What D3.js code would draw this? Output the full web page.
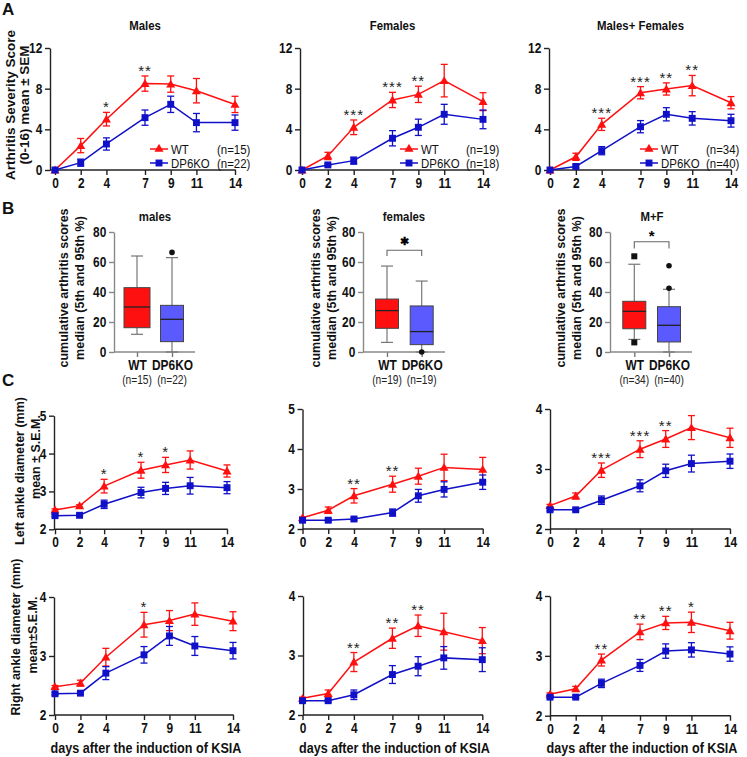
<!DOCTYPE html>
<html><head><meta charset="utf-8">
<script src="https://cdn.jsdelivr.net/npm/d3@7"></script>
<style>body{margin:0;background:#fff} svg{display:block} text{font-family:"Liberation Sans",Arial,sans-serif}</style>
</head><body><svg id="c" width="747" height="757"></svg>
<script>
const days=[0,2,4,7,9,11,14];
const seriesNames=["WT","DP6KO"];
// Panel A: arthritis severity score (mean ± SEM)
const aMalesWT=[0,2.4,5.0,8.5,8.45,7.8,6.45];
const aMalesWTsem=[0,0.7,0.67,0.75,0.8,1.2,0.8];
const aMalesKO=[0,0.72,2.56,5.15,6.46,4.66,4.66];
const aMalesKOsem=[0,0.35,0.6,0.75,0.8,0.9,0.75];
const aMalesSig=["","","*","**","","",""];
const aFemalesWT=[0,1.38,4.2,6.89,7.44,8.79,6.72];
const aFemalesWTsem=[0,0.36,0.72,0.75,0.8,1.6,0.88];
const aFemalesKO=[0,0.5,0.92,3.12,4.2,5.48,4.98];
const aFemalesKOsem=[0,0.1,0.35,0.75,0.8,0.98,0.92];
const aFemalesSig=["","","***","***","**","",""];
const aBothWT=[0,1.3,4.49,7.6,7.97,8.3,6.62];
const aBothWTsem=[0,0.35,0.6,0.6,0.6,1.0,0.6];
const aBothKO=[0,0.35,1.9,4.26,5.48,5.08,4.85];
const aBothKOsem=[0,0.15,0.4,0.6,0.65,0.66,0.63];
const aBothSig=["","","***","***","**","**",""];
const aTitles=["Males","Females","Males+ Females"];
const aN=[["(n=15)","(n=22)"],["(n=19)","(n=18)"],["(n=34)","(n=40)"]];
const aTicks=[0,4,8,12];
// Panel B: cumulative scores [low whisker, Q1, median, Q3, high whisker]
const bCats=["WT","DP6KO"];
const bMalesWT=[11.8,16.2,30,42.9,64];
const bMalesKO=[0,6.9,21.8,31.1,62.9];
const bMalesWTout=[];
const bMalesKOout=[66.4];
const bFemalesWT=[6.4,15.8,27.6,35.3,57.3];
const bFemalesKO=[0,4.9,13.6,30.7,47.3];
const bFemalesWTout=[];
const bFemalesKOout=[0];
const bBothWT=[8.4,15.5,27.1,33.8,58.5];
const bBothKO=[0,6.7,17.8,30.2,41.8];
const bBothWTout=[63.8,6.4];
const bBothKOout=[57.5,42.5];
const bTitles=["males","females","M+F"];
const bN=[["(n=15)","(n=22)"],["(n=19)","(n=19)"],["(n=34)","(n=40)"]];
const bSig=["","✱","*"];
const bTicks=[0,20,40,60,80];
// Panel C: ankle diameters (mm, mean ± SEM)
const cLeftMalesWT=[2.51,2.62,3.14,3.56,3.70,3.83,3.54];
const cLeftMalesWTsem=[0.03,0.03,0.18,0.21,0.2,0.24,0.16];
const cLeftMalesKO=[2.36,2.37,2.66,2.97,3.08,3.15,3.10];
const cLeftMalesKOsem=[0.03,0.03,0.11,0.14,0.16,0.22,0.16];
const cLeftMalesSig=["","","*","*","*","",""];
const cLeftFemalesWT=[2.28,2.47,2.83,3.12,3.32,3.54,3.49];
const cLeftFemalesWTsem=[0.02,0.08,0.18,0.2,0.2,0.33,0.3];
const cLeftFemalesKO=[2.22,2.22,2.25,2.41,2.83,2.99,3.17];
const cLeftFemalesKOsem=[0.03,0.03,0.03,0.09,0.16,0.19,0.18];
const cLeftFemalesSig=["","","**","**","","",""];
const cLeftBothWT=[2.39,2.55,2.98,3.33,3.50,3.69,3.52];
const cLeftBothWTsem=[0.02,0.05,0.12,0.14,0.14,0.2,0.16];
const cLeftBothKO=[2.32,2.32,2.48,2.72,2.97,3.09,3.13];
const cLeftBothKOsem=[0.02,0.02,0.07,0.1,0.11,0.14,0.12];
const cLeftBothSig=["","","***","***","**","",""];
const cRightMalesWT=[2.48,2.54,2.98,3.53,3.60,3.71,3.59];
const cRightMalesWTsem=[0.02,0.05,0.15,0.21,0.17,0.19,0.16];
const cRightMalesKO=[2.36,2.37,2.71,3.02,3.34,3.17,3.09];
const cRightMalesKOsem=[0.02,0.02,0.11,0.14,0.16,0.16,0.14];
const cRightMalesSig=["","","","*","","",""];
const cRightFemalesWT=[2.28,2.36,2.89,3.29,3.50,3.40,3.25];
const cRightFemalesWTsem=[0.02,0.06,0.16,0.17,0.18,0.31,0.22];
const cRightFemalesKO=[2.24,2.24,2.34,2.68,2.82,2.96,2.93];
const cRightFemalesKOsem=[0.02,0.02,0.08,0.15,0.16,0.19,0.2];
const cRightFemalesSig=["","","**","**","**","",""];
const cRightBothWT=[2.36,2.45,2.93,3.40,3.55,3.56,3.42];
const cRightBothWTsem=[0.02,0.04,0.1,0.13,0.11,0.17,0.14];
const cRightBothKO=[2.31,2.31,2.54,2.84,3.08,3.10,3.03];
const cRightBothKOsem=[0.02,0.02,0.07,0.1,0.12,0.12,0.12];
const cRightBothSig=["","","**","**","**","*",""];

const RED="#ff1010", BLUE="#1010c8", BOXBLUE="#5a5aff", AX="#222";
const svg=d3.select("#c");
const fmt=d3.format("d");

function htext(x,y,str,o){
  o=o||{};
  const sx=o.sx||1;
  return svg.append("text").attr("transform",`translate(${x},${y}) scale(${sx},1)`)
    .attr("text-anchor",o.anchor||"start").attr("font-size",o.fs||13)
    .attr("font-weight",o.bold?"bold":"normal").attr("fill",o.fill||"#111").text(str);
}
function vtext(x,y,str,fs){
  return svg.append("text").attr("transform",`translate(${x},${y}) rotate(-90)`).attr("text-anchor","middle")
    .attr("font-size",fs).attr("font-weight","bold").attr("fill","#111").text(str);
}
function styleAxis(g,fs,sx){
  g.selectAll("path,line").attr("stroke",AX).attr("stroke-width",1.4);
  g.selectAll("text").attr("font-size",fs).attr("font-weight","bold").attr("fill","#111")
   .attr("transform",`scale(${sx},1)`);
}

function linePanel(cfg){
  const g=svg.append("g");
  const x=d3.scaleLinear().domain([0,14]).range([cfg.x0,cfg.x14]);
  const y=d3.scaleLinear().domain(cfg.yDom).range([cfg.yBot,cfg.yTop]);
  const ya=g.append("g").attr("transform",`translate(${cfg.ax},0)`)
    .call(d3.axisLeft(y).tickValues(cfg.yTicks).tickFormat(fmt).tickSize(5).tickSizeOuter(0).tickPadding(4));
  styleAxis(ya,14,0.85);
  const xa=g.append("g").attr("transform",`translate(0,${cfg.yBot})`)
    .call(d3.axisBottom(x).tickValues(days).tickFormat(fmt).tickSize(5).tickSizeOuter(0).tickPadding(3));
  xa.select(".domain").remove();
  styleAxis(xa,14,0.85);
  g.append("line").attr("x1",cfg.ax).attr("x2",x(14)+0.7).attr("y1",cfg.yBot).attr("y2",cfg.yBot)
    .attr("stroke",AX).attr("stroke-width",1.4);
  const series=[
    {v:cfg.wt,e:cfg.wtE,c:RED,sym:d3.symbolTriangle,size:36},
    {v:cfg.ko,e:cfg.koE,c:BLUE,sym:d3.symbolSquare,size:48}];
  series.forEach(s=>{
    const pts=days.map((d,i)=>({d,v:s.v[i],e:s.e[i]}));
    g.append("path").datum(pts).attr("fill","none").attr("stroke",s.c).attr("stroke-width",1.5)
      .attr("d",d3.line().x(p=>x(p.d)).y(p=>y(p.v)));
    const eb=g.append("g").attr("stroke",s.c).attr("stroke-width",1.3);
    pts.forEach(p=>{
      if(p.e<=0) return;
      const t=y(p.v+p.e), b=y(p.v-p.e), cx=x(p.d);
      eb.append("line").attr("x1",cx).attr("x2",cx).attr("y1",t).attr("y2",b);
      eb.append("line").attr("x1",cx-3.5).attr("x2",cx+3.5).attr("y1",t).attr("y2",t);
      eb.append("line").attr("x1",cx-3.5).attr("x2",cx+3.5).attr("y1",b).attr("y2",b);
    });
    g.append("g").selectAll("path").data(pts).join("path")
      .attr("transform",p=>`translate(${x(p.d)},${y(p.v)+(s.sym===d3.symbolTriangle?0.8:0)})`)
      .attr("d",d3.symbol(s.sym,s.size)).attr("fill",s.c);
  });
  g.append("g").selectAll("text").data(days.map((d,i)=>({d,s:cfg.sig[i],top:cfg.wt[i]+cfg.wtE[i]}))).join("text")
    .attr("x",p=>x(p.d)).attr("y",p=>y(p.top)).attr("text-anchor","middle")
    .attr("font-size",15).attr("fill","#222").attr("letter-spacing",1).text(p=>p.s);
  return {x,y};
}

// ---- Panel A ----
const aCfg=[
  {ax:50,x0:55,x14:235,wt:aMalesWT,wtE:aMalesWTsem,ko:aMalesKO,koE:aMalesKOsem,sig:aMalesSig,leg:150,nx:217},
  {ax:300,x0:302,x14:483,wt:aFemalesWT,wtE:aFemalesWTsem,ko:aFemalesKO,koE:aFemalesKOsem,sig:aFemalesSig,leg:400,nx:466},
  {ax:549,x0:550,x14:731,wt:aBothWT,wtE:aBothWTsem,ko:aBothKO,koE:aBothKOsem,sig:aBothSig,leg:640,nx:706}];
aCfg.forEach((c,k)=>{
  Object.assign(c,{yDom:[0,12],yTop:48,yBot:170,yTicks:aTicks});
  linePanel(c);
  htext((c.x0+c.x14)/2,30,aTitles[k],{anchor:"middle",fs:12,bold:true,sx:0.95});
  [[RED,d3.symbolTriangle,36,149],[BLUE,d3.symbolSquare,48,163]].forEach((L,i)=>{
    svg.append("line").attr("x1",c.leg).attr("x2",c.leg+18).attr("y1",L[3]).attr("y2",L[3])
      .attr("stroke",L[0]).attr("stroke-width",1.5);
    svg.append("path").attr("transform",`translate(${c.leg+9},${L[3]})`).attr("d",d3.symbol(L[1],L[2])).attr("fill",L[0]);
    htext(c.leg+21,L[3]+5,seriesNames[i],{fs:13,sx:0.88});
    htext(c.nx,L[3]+5,aN[k][i],{fs:13,sx:0.88});
  });
});
vtext(14.5,105,"Arthritis Severity Score",13.5);
vtext(28.5,105,"(0-16) mean ± SEM",13.5);
htext(2,15,"A",{fs:17,bold:true});

// ---- Panel B ----
const bCfg=[
  {ax:114,xe:195,cx:[137,172],bw:[26,23],wt:bMalesWT,ko:bMalesKO,wo:bMalesWTout,ko2:bMalesKOout,tx:155,ty1:67.5,ty2:84},
  {ax:363,xe:445,cx:[387,421.7],bw:[23,23],wt:bFemalesWT,ko:bFemalesKO,wo:bFemalesWTout,ko2:bFemalesKOout,tx:404,ty1:319.5,ty2:336,br:67.8,brd:64},
  {ax:610,xe:692,cx:[634.3,669],bw:[23,23],wt:bBothWT,ko:bBothKO,wo:bBothWTout,ko2:bBothKOout,tx:652,ty1:564.5,ty2:581,br:73.5,brd:69}];
bCfg.forEach((c,k)=>{
  const g=svg.append("g");
  const y=d3.scaleLinear().domain([0,80]).range([352,232]);
  const x=d3.scalePoint().domain(bCats).range(c.cx);
  const ya=g.append("g").attr("transform",`translate(${c.ax},0)`)
    .call(d3.axisLeft(y).tickValues(bTicks).tickFormat(fmt).tickSize(5).tickSizeOuter(0).tickPadding(4));
  styleAxis(ya,14,0.85);
  const xa=g.append("g").attr("transform","translate(0,352)")
    .call(d3.axisBottom(x).tickSize(5).tickSizeOuter(0).tickPadding(3));
  xa.select(".domain").remove();
  styleAxis(xa,14,0.85);
  xa.selectAll(".tick line").attr("stroke","#777");
  g.append("line").attr("x1",c.ax).attr("x2",c.xe).attr("y1",352).attr("y2",352).attr("stroke","#888").attr("stroke-width",1.4);
  ya.selectAll("path,line").attr("stroke","#888");
  [[c.wt,RED,c.wo,"sq"],[c.ko,BOXBLUE,c.ko2,"ci"]].forEach((B,i)=>{
    const s=B[0], cx=x(bCats[i]), w=c.bw[i];
    g.append("line").attr("x1",cx).attr("x2",cx).attr("y1",y(s[0])).attr("y2",y(s[4])).attr("stroke","#777").attr("stroke-width",1.2);
    [s[0],s[4]].forEach(v=>g.append("line").attr("x1",cx-6).attr("x2",cx+6).attr("y1",y(v)).attr("y2",y(v)).attr("stroke","#777").attr("stroke-width",1.2));
    g.append("rect").attr("x",cx-w/2).attr("width",w).attr("y",y(s[3])).attr("height",y(s[1])-y(s[3]))
      .attr("fill",B[1]).attr("stroke","#444").attr("stroke-width",1);
    g.append("line").attr("x1",cx-w/2).attr("x2",cx+w/2).attr("y1",y(s[2])).attr("y2",y(s[2])).attr("stroke","#222").attr("stroke-width",1.3);
    B[2].forEach(v=>{
      if(B[3]==="sq") g.append("rect").attr("x",cx-3).attr("y",y(v)-3).attr("width",6).attr("height",6).attr("fill","#111");
      else g.append("circle").attr("cx",cx).attr("cy",y(v)).attr("r",2.8).attr("fill","#111");
    });
  });
  if(c.br){
    const x1=x(bCats[0]), x2=x(bCats[1]);
    g.append("path").attr("d",`M${x1},${y(c.brd)}V${y(c.br)}H${x2}V${y(c.brd)}`).attr("fill","none").attr("stroke","#666").attr("stroke-width",1.1);
    g.append("text").attr("x",(x1+x2)/2).attr("y",y(c.br)-(k===1?5:1)).attr("text-anchor","middle")
      .attr("font-size",k===1?11:15).attr("font-weight","bold").attr("font-family","DejaVu Sans").text(bSig[k]);
  }
  htext(c.tx,221,bTitles[k],{anchor:"middle",fs:12,bold:true,sx:0.95});
  bN[k].forEach((t,i)=>htext(x(bCats[i]),384,t,{anchor:"middle",fs:12,sx:0.85,fill:"#222"}));
  vtext(c.ty1,288,"cumulative arthritis scores",12.5);
  vtext(c.ty2,288,"median (5th and 95th %)",12.5);
});
htext(2,214,"B",{fs:17,bold:true});

// ---- Panel C ----
const cCfg=[
  {ax:54,x0:55,x14:227,yDom:[2,5],yTop:415.7,yBot:529.3,yTicks:[2,3,4,5],wt:cLeftMalesWT,wtE:cLeftMalesWTsem,ko:cLeftMalesKO,koE:cLeftMalesKOsem,sig:cLeftMalesSig},
  {ax:302.5,x0:302.5,x14:482.7,yDom:[2,5],yTop:409,yBot:529,yTicks:[2,3,4,5],wt:cLeftFemalesWT,wtE:cLeftFemalesWTsem,ko:cLeftFemalesKO,koE:cLeftFemalesKOsem,sig:cLeftFemalesSig},
  {ax:550,x0:550,x14:730,yDom:[2,4],yTop:409,yBot:529,yTicks:[2,3,4],wt:cLeftBothWT,wtE:cLeftBothWTsem,ko:cLeftBothKO,koE:cLeftBothKOsem,sig:cLeftBothSig},
  {ax:54,x0:55,x14:233,yDom:[2,4],yTop:597,yBot:715,yTicks:[2,3,4],wt:cRightMalesWT,wtE:cRightMalesWTsem,ko:cRightMalesKO,koE:cRightMalesKOsem,sig:cRightMalesSig},
  {ax:303,x0:302.5,x14:482.3,yDom:[2,4],yTop:596,yBot:715,yTicks:[2,3,4],wt:cRightFemalesWT,wtE:cRightFemalesWTsem,ko:cRightFemalesKO,koE:cRightFemalesKOsem,sig:cRightFemalesSig},
  {ax:550,x0:550,x14:730,yDom:[2,4],yTop:596,yBot:715.7,yTicks:[2,3,4],wt:cRightBothWT,wtE:cRightBothWTsem,ko:cRightBothKO,koE:cRightBothKOsem,sig:cRightBothSig}];
cCfg.forEach((c,k)=>{
  linePanel(c);
  if(k>=3) htext((c.x0+c.x14)/2+2,753,"days after the induction of KSIA",{anchor:"middle",fs:14,bold:true,sx:0.9});
});
vtext(23.5,471,"Left ankle diameter (mm)",12.5);
vtext(39.5,457,"mean ± S.E.M.",12.5);
vtext(19.5,637,"Right ankle diameter (mm)",12.5);
vtext(36.5,635,"mean±S.E.M.",12.5);
htext(2,386,"C",{fs:17,bold:true});
</script></body></html>
